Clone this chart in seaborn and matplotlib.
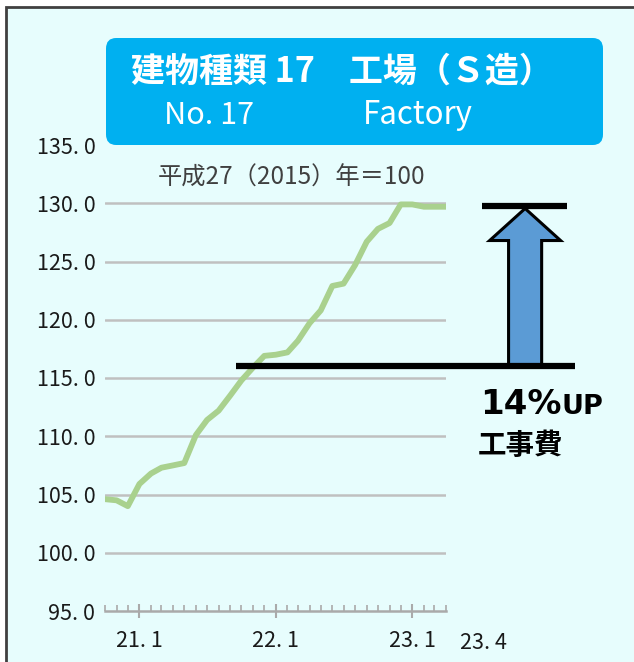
import pandas as pd
import numpy as np
import seaborn as sns
import matplotlib.pyplot as plt
import matplotlib.dates as mdates
from matplotlib.patches import Rectangle, FancyBboxPatch, FancyArrow
from matplotlib.transforms import blended_transform_factory

# 建設工事費デフレーター（工場 S造） 2020.10 - 2023.4
meses = pd.date_range("2020-10-01", "2023-04-01", freq="MS")
indice = [104.6, 104.5, 104.0, 105.9, 106.8, 107.3, 107.5, 107.7, 110.1, 111.4,
          112.2, 113.5, 114.8, 115.9, 116.9, 117.0, 117.2, 118.2, 119.7, 120.8,
          122.9, 123.1, 124.7, 126.7, 127.8, 128.3, 129.9, 129.9, 129.7, 129.7,
          129.7]
yticks = [95, 100, 105, 110, 115, 120, 125, 130, 135]
ytick_labels = ["95. 0", "100. 0", "105. 0", "110. 0", "115. 0", "120. 0",
                "125. 0", "130. 0", "135. 0"]
xticks = ["2021-01-01", "2022-01-01", "2023-01-01"]
xtick_labels = ["21. 1", "22. 1", "23. 1"]
ultimo_label = "23. 4"
seta_de, seta_ate = 116.0, 129.8

dados = pd.DataFrame({"mes": meses, "indice": indice})

sns.set_style("white")
plt.rcParams['font.family'] = ['Noto Sans CJK JP', 'DejaVu Sans']

fig = plt.figure(figsize=(6.34, 6.62), dpi=100, facecolor="white")
W, H = 634, 662

# moldura de fundo
fig.patches.append(Rectangle((6 / W, -0.02), 1.1, 1 - 7 / H + 0.02, transform=fig.transFigure,
                             facecolor="#e7fdfd", edgecolor="#404040", linewidth=2, zorder=-10))

ax = fig.add_axes([105 / W, 1 - 611 / H, 341 / W, 466 / H])
ax.set_facecolor("none")

sns.lineplot(data=dados, x="mes", y="indice", color="#a9d18e", linewidth=4.2, ax=ax,
             solid_capstyle="round", zorder=3)

ax.set_xlim(pd.Timestamp("2020-10-01"), pd.Timestamp("2023-04-01"))
ax.set_ylim(95, 135)
ax.set_xlabel("")
ax.set_ylabel("")

ax.set_yticks(yticks)
ax.set_yticklabels(ytick_labels)
ax.set_xticks([pd.Timestamp(d) for d in xticks])
ax.set_xticklabels(xtick_labels)
ax.xaxis.set_minor_locator(mdates.MonthLocator())

ax.tick_params(axis="y", left=False, length=0, pad=7, labelsize=15.5, labelcolor="#1a1a1a")
ax.tick_params(axis="x", which="major", bottom=True, direction="inout", length=10, width=1.5,
               color="#aaaaaa", pad=9, labelsize=15.5, labelcolor="#1a1a1a")
ax.tick_params(axis="x", which="minor", bottom=True, direction="in", length=4, width=1.2,
               color="#aaaaaa")

ax.grid(axis="y", color="#c0c0c0", linewidth=1.8)
ax.grid(axis="x", visible=False)
for gl in ax.get_ygridlines():
    if gl.get_ydata()[0] in (95, 135):
        gl.set_visible(False)

for s in ["top", "right", "left"]:
    ax.spines[s].set_visible(False)
ax.spines["bottom"].set_color("#aaaaaa")
ax.spines["bottom"].set_linewidth(1.8)

ax.annotate(ultimo_label, xy=(1, 0), xycoords="axes fraction", xytext=(37, -21),
            textcoords="offset pixels", ha="center", va="top", fontsize=15.5, color="#1a1a1a")

ax.text(0.155, 0.929, "平成27（2015）年＝100", transform=ax.transAxes, ha="left", va="center",
        fontsize=17.5, color="#404040")

# linhas e seta de anotação
trans = blended_transform_factory(ax.transAxes, ax.transData)
ax.plot([0.383, 1.378], [seta_de, seta_de], color="black", linewidth=4.5, transform=trans,
        clip_on=False, solid_capstyle="butt", zorder=5)
ax.plot([1.105, 1.356], [seta_ate, seta_ate], color="black", linewidth=4.5, transform=trans,
        clip_on=False, solid_capstyle="butt", zorder=5)
ax.add_patch(FancyArrow(1.232, seta_de, 0, seta_ate - seta_de - 0.25, width=0.097,
                        head_width=0.208, head_length=2.75, length_includes_head=True,
                        transform=trans, facecolor="#5b9bd5", edgecolor="black",
                        linewidth=2.2, clip_on=False, zorder=4))

fig.text(480 / W, 1 - 414 / H, "14%", fontsize=24.5, fontweight="bold", family="DejaVu Sans",
         ha="left", va="baseline", color="black")
fig.text(561 / W, 1 - 414 / H, "UP", fontsize=19.5, fontweight="bold", family="DejaVu Sans",
         ha="left", va="baseline", color="black")
fig.text(478 / W, 1 - 446 / H, "工事費", fontsize=20.5, fontweight="bold",
         ha="left", va="center", color="black")

# caixa de título
fig.patches.append(FancyBboxPatch((106 / W, 1 - 145 / H), 497 / W, 107 / H,
                                  boxstyle="round,pad=0,rounding_size=0.016",
                                  transform=fig.transFigure, facecolor="#00b0f0",
                                  edgecolor="none", zorder=1))
fig.text(131 / W, 1 - 71 / H, "建物種類 17　工場（Ｓ造）", fontsize=24.5, fontweight="bold",
         color="white", ha="left", va="center")
fig.text(164 / W, 1 - 115 / H, "No. 17", fontsize=22, color="white", ha="left", va="center")
fig.text(363 / W, 1 - 115 / H, "Factory", fontsize=22.5, color="white", ha="left", va="center")

plt.savefig("out.png", dpi=100, facecolor="white")
